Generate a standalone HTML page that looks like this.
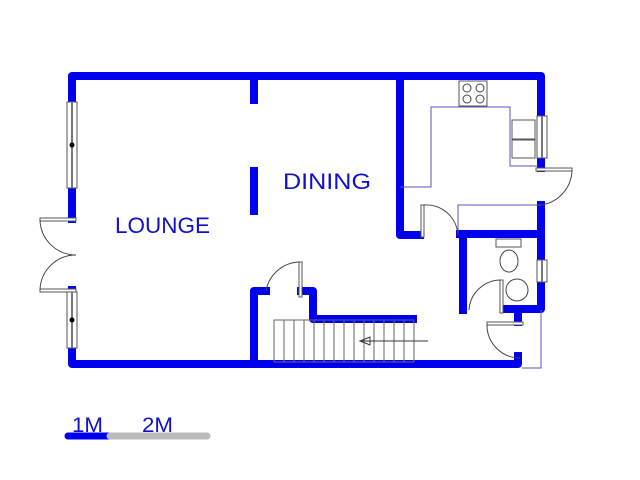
<!DOCTYPE html>
<html><head><style>body{margin:0;background:#fff}svg{display:block}</style></head><body>
<svg width="640" height="480" viewBox="0 0 640 480" xmlns="http://www.w3.org/2000/svg" font-family="Liberation Sans, sans-serif">
<g stroke="#0000ee" stroke-width="8" fill="none" stroke-linejoin="round" stroke-linecap="square">
<path d="M72 102 V76 H541 V116"/>
<path d="M72 188 V219"/>
<path d="M72 292 V290"/>
<path d="M72 348 V364 H518 V356"/>
<path d="M254 77 V100"/>
<path d="M254 171 V211"/>
<path d="M266 291 H254 V364"/>
<path d="M301 291 H313 V319 H413"/>
<path d="M400 77 V235 H420"/>
<path d="M541 158 V168"/>
<path d="M541 205 V258"/>
<path d="M460 234 H541"/>
<path d="M463 234 V310"/>
<path d="M541 282 V309 H506"/>
<path d="M518 310 V322"/>
</g>
<g stroke="#5555bb" stroke-width="1" fill="none">
<path d="M400 187 H431 V107 H510 V166 H538"/>
<path d="M458 234 V205 H541"/>
<path d="M522 368 H541 V310"/>
</g>
<g stroke="#555" stroke-width="1" fill="#fff">
<rect x="67" y="102" width="10" height="86"/>
<rect x="67" y="292" width="10" height="56"/>
<rect x="537" y="116" width="10" height="42"/>
<rect x="537" y="260" width="10" height="22"/>
<rect x="40" y="218" width="36" height="3"/>
<rect x="40" y="289" width="36" height="3"/>
<rect x="536" y="168" width="36" height="3"/>
<rect x="421" y="205" width="3" height="32"/>
<rect x="299" y="262" width="3" height="35"/>
<rect x="500" y="280" width="3" height="33"/>
<rect x="487" y="322" width="36" height="3"/>
<rect x="459" y="81" width="28" height="25"/>
<rect x="512" y="120" width="23" height="19"/>
<rect x="512" y="140" width="23" height="18"/>
<rect x="496" y="239" width="25" height="8"/>
</g>
<g fill="#777"><rect x="71" y="102" width="2" height="86"/><rect x="71" y="292" width="2" height="56"/><rect x="541" y="116" width="2" height="42"/><rect x="541" y="260" width="2" height="22"/></g>
<g fill="#000"><circle cx="72" cy="145" r="2.5"/><circle cx="72" cy="320" r="2.5"/></g>
<g stroke="#444" stroke-width="1" fill="none">
<circle cx="467" cy="88" r="4"/><circle cx="480" cy="88" r="4"/><circle cx="467" cy="99" r="4"/><circle cx="480" cy="99" r="4"/>
<path d="M40 220 A36 36 0 0 0 76 255"/>
<path d="M40 290 A36 36 0 0 1 76 255"/>
<path d="M572 170 A36 36 0 0 1 541 205"/>
<path d="M423 205 A32 32 0 0 1 458 236"/>
<path d="M300 262 A35 35 0 0 0 266 291"/>
<path d="M501 280 A32 32 0 0 0 469 310"/>
<path d="M487 324 A33 33 0 0 0 520 358"/>
<ellipse cx="509" cy="261" rx="9" ry="11"/>
<circle cx="517" cy="290" r="11"/>
</g>
<g stroke="#666" stroke-width="1" fill="none">
<rect x="274" y="320" width="140" height="42"/>
<path d="M284 320V362M294 320V362M304 320V362M314 320V362M324 320V362M334 320V362M344 320V362M354 320V362M364 320V362M374 320V362M384 320V362M394 320V362M404 320V362"/>
<path d="M428 341 H360 M360 341 L370 337 V345 Z" stroke="#333"/>
</g>
<g fill="#1010cc" font-size="22">
<text x="115" y="233" textLength="95" lengthAdjust="spacingAndGlyphs">LOUNGE</text>
<text x="283" y="189" textLength="88" lengthAdjust="spacingAndGlyphs">DINING</text>
<text x="72" y="432" font-size="21" textLength="31" lengthAdjust="spacingAndGlyphs">1M</text>
<text x="142" y="432" font-size="21" textLength="31" lengthAdjust="spacingAndGlyphs">2M</text>
</g>
<line x1="68" y1="436" x2="110" y2="436" stroke="#0000ee" stroke-width="7" stroke-linecap="round"/>
<line x1="110" y1="436" x2="207" y2="436" stroke="#bbb" stroke-width="7" stroke-linecap="round"/>
</svg>
</body></html>
